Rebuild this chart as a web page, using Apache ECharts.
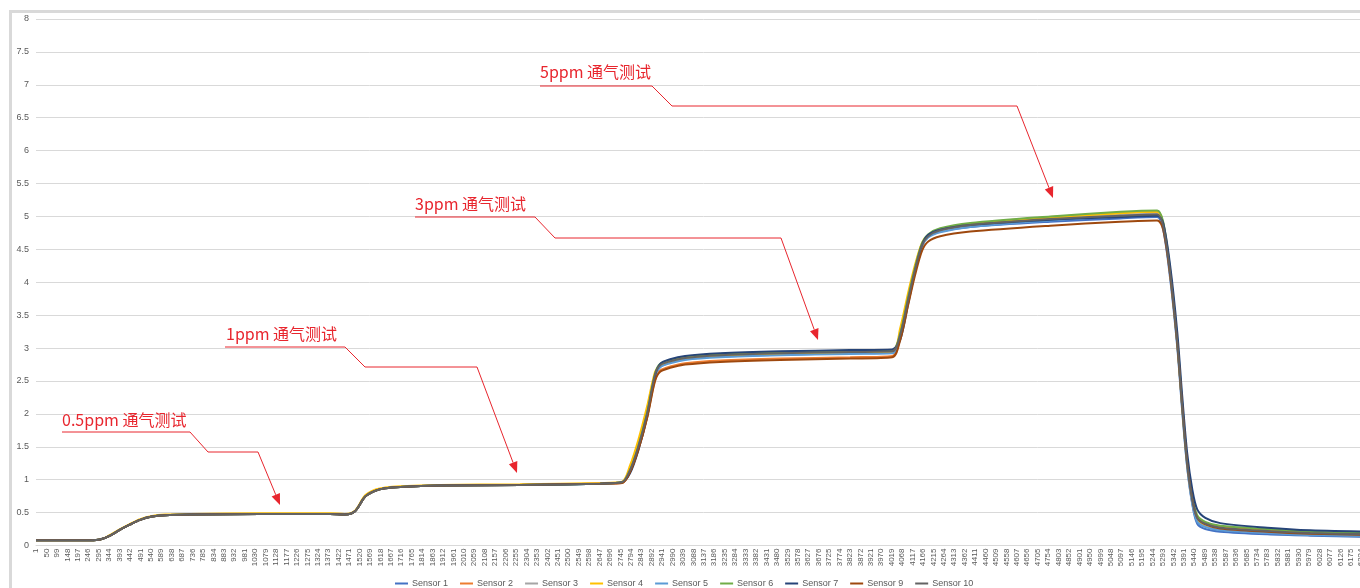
<!DOCTYPE html>
<html>
<head>
<meta charset="utf-8">
<script src="https://cdn.jsdelivr.net/npm/echarts@6/dist/echarts.min.js"></script>
<style>
html,body{margin:0;padding:0;background:#fff;overflow:hidden;width:1360px;height:588px;}
#chart{width:1400px;height:588px;}
</style>
</head>
<body>
<div id="chart"></div>
<script>
// sample numbers (x positions, category sample index)
const samples = [1,255,302,349,396,443,490,546,607,724,1053,1382,1452,1499,1546,1593,1640,1711,1899,2274,2650,2753,
  2791,2829,2871,2908,2932,2979,3049,3214,3495,3824,4022,
  4059,4097,4130,4162,4191,4247,4388,4764,5093,5266,
  5294,5327,5360,5384,5407,5431,5454,5492,5562,5783,5985,6267];

const seriesNames = ['Sensor 1','Sensor 2','Sensor 3','Sensor 4','Sensor 5','Sensor 6','Sensor 7','Sensor 9','Sensor 10'];
const seriesColors = ['#4472C4','#ED7D31','#A5A5A5','#FFC000','#5B9BD5','#70AD47','#264478','#9E480E','#636363'];

const sensor1 = [0.08,0.08,0.09,0.15,0.24,0.32,0.39,0.44,0.46,0.47,0.48,0.48,0.47,0.52,0.74,0.83,0.87,0.89,0.91,0.92,0.94,0.96,
  1.13,1.47,1.98,2.56,2.71,2.78,2.83,2.87,2.90,2.92,2.93,
  3.18,3.72,4.18,4.55,4.70,4.77,4.84,4.92,4.97,4.99,
  4.80,4.05,3.02,2.02,1.18,0.62,0.33,0.25,0.21,0.17,0.15,0.13];
const sensor2 = [0.08,0.08,0.09,0.15,0.24,0.32,0.39,0.44,0.46,0.47,0.48,0.48,0.47,0.52,0.74,0.83,0.87,0.89,0.91,0.92,0.94,0.95,
  1.12,1.45,1.95,2.52,2.66,2.72,2.77,2.81,2.84,2.86,2.88,
  3.15,3.70,4.17,4.55,4.70,4.80,4.89,4.99,5.05,5.07,
  4.90,4.15,3.10,2.10,1.25,0.70,0.43,0.34,0.28,0.23,0.20,0.18];
const sensor3 = [0.08,0.08,0.09,0.15,0.24,0.32,0.39,0.44,0.46,0.47,0.48,0.48,0.47,0.52,0.74,0.83,0.87,0.89,0.91,0.92,0.94,0.96,
  1.15,1.50,2.02,2.60,2.74,2.80,2.85,2.89,2.92,2.94,2.95,
  3.22,3.77,4.22,4.57,4.70,4.78,4.86,4.96,5.02,5.04,
  4.86,4.12,3.08,2.08,1.22,0.66,0.38,0.29,0.24,0.20,0.17,0.15];
const sensor4 = [0.08,0.08,0.09,0.16,0.25,0.33,0.40,0.45,0.47,0.48,0.49,0.49,0.48,0.53,0.76,0.85,0.88,0.90,0.92,0.93,0.95,0.97,
  1.22,1.60,2.12,2.64,2.74,2.80,2.85,2.89,2.91,2.93,2.94,
  3.30,3.85,4.28,4.60,4.72,4.80,4.88,4.98,5.05,5.07,
  4.88,4.12,3.08,2.08,1.23,0.68,0.41,0.32,0.27,0.22,0.19,0.17];
const sensor5 = [0.08,0.08,0.09,0.15,0.24,0.32,0.39,0.44,0.46,0.47,0.48,0.48,0.47,0.52,0.74,0.83,0.87,0.89,0.91,0.92,0.94,0.96,
  1.14,1.48,1.99,2.57,2.71,2.77,2.82,2.86,2.89,2.91,2.92,
  3.20,3.74,4.19,4.55,4.68,4.76,4.84,4.94,5.00,5.02,
  4.84,4.10,3.06,2.06,1.20,0.64,0.36,0.28,0.23,0.19,0.16,0.14];
const sensor6 = [0.08,0.08,0.09,0.15,0.24,0.32,0.39,0.44,0.46,0.47,0.48,0.48,0.47,0.52,0.74,0.83,0.87,0.89,0.91,0.92,0.94,0.96,
  1.15,1.50,2.02,2.61,2.76,2.82,2.87,2.91,2.94,2.96,2.97,
  3.22,3.78,4.24,4.60,4.73,4.82,4.90,5.00,5.07,5.09,
  4.92,4.18,3.14,2.14,1.28,0.74,0.46,0.36,0.30,0.25,0.21,0.19];
const sensor7 = [0.08,0.08,0.09,0.15,0.24,0.32,0.39,0.44,0.46,0.47,0.48,0.48,0.47,0.52,0.74,0.83,0.87,0.89,0.91,0.92,0.94,0.96,
  1.10,1.44,1.96,2.58,2.76,2.83,2.88,2.92,2.95,2.97,2.98,
  3.12,3.68,4.18,4.57,4.72,4.80,4.87,4.95,4.99,5.01,
  4.90,4.25,3.25,2.25,1.40,0.85,0.55,0.42,0.34,0.27,0.23,0.21];
const sensor9 = [0.08,0.08,0.09,0.15,0.24,0.32,0.39,0.44,0.46,0.47,0.48,0.48,0.47,0.52,0.74,0.83,0.87,0.89,0.91,0.92,0.94,0.95,
  1.12,1.45,1.94,2.50,2.64,2.70,2.75,2.79,2.82,2.84,2.86,
  3.12,3.66,4.12,4.48,4.62,4.70,4.77,4.86,4.92,4.94,
  4.80,4.10,3.08,2.10,1.25,0.70,0.42,0.32,0.26,0.21,0.18,0.16];
const sensor10 = [0.08,0.08,0.09,0.15,0.24,0.32,0.39,0.44,0.46,0.47,0.48,0.48,0.47,0.52,0.74,0.83,0.87,0.89,0.91,0.92,0.94,0.96,
  1.15,1.50,2.01,2.60,2.74,2.80,2.85,2.89,2.92,2.94,2.95,
  3.20,3.75,4.21,4.57,4.70,4.79,4.87,4.96,5.01,5.03,
  4.86,4.14,3.10,2.10,1.25,0.70,0.42,0.33,0.27,0.22,0.19,0.17];

const seriesValues = [sensor1,sensor2,sensor3,sensor4,sensor5,sensor6,sensor7,sensor9,sensor10];

// annotations: text and leader line corner points (page pixels)
const annotations = [
  {text:'0.5ppm 通气测试', tx:62,  ty:420, pts:[[62,432],[190,432],[208,452],[258,452],[280,505]]},
  {text:'1ppm 通气测试',   tx:226, ty:334, pts:[[225,347],[345,347],[365,367],[477,367],[517,473]]},
  {text:'3ppm 通气测试',   tx:415, ty:204, pts:[[415,217],[535,217],[555,238],[781,238],[818,340]]},
  {text:'5ppm 通气测试',   tx:540, ty:72,  pts:[[540,86],[652,86],[672,106],[1017,106],[1053,198]]}
];

const chart = echarts.init(document.getElementById('chart'), null, {renderer:'canvas'});

const red = '#E8262E';
const graphics = [
  {type:'rect', shape:{x:10.5, y:11.5, width:1500, height:700}, style:{fill:null, stroke:'#d9d9d9', lineWidth:3}, z:0, silent:true}
];
annotations.forEach(a => {
  const pts = a.pts.slice();
  const tip = pts[pts.length-1];
  const prev = pts[pts.length-2];
  const dx = tip[0]-prev[0], dy = tip[1]-prev[1];
  const len = Math.sqrt(dx*dx+dy*dy);
  const ux = dx/len, uy = dy/len;
  const L = 11, W = 4.5;
  const bx = tip[0]-ux*L, by = tip[1]-uy*L;
  const linePts = pts.slice(0, -1).concat([[bx, by]]);
  graphics.push({type:'polyline', shape:{points:linePts}, style:{stroke:red, lineWidth:1, fill:null}, z:50, silent:true});
  graphics.push({type:'polygon', shape:{points:[tip,[bx - uy*W, by + ux*W],[bx + uy*W, by - ux*W]]}, style:{fill:red}, z:50, silent:true});
  graphics.push({type:'text', style:{x:a.tx, y:a.ty, text:a.text, fill:red, fontSize:16, fontFamily:'"Noto Sans CJK SC", sans-serif', verticalAlign:'middle', align:'left'}, z:50, silent:true});
});

const option = {
  animation:false,
  backgroundColor:'#ffffff',
  grid:{left:36, right:29, top:19, bottom:42.5},
  legend:{
    data:seriesNames, left:390, top:574, icon:'rect', itemWidth:13, itemHeight:2, itemGap:12,
    textStyle:{color:'#595959', fontSize:9, fontFamily:'"Liberation Sans", sans-serif', padding:[0,0,0,-1]}
  },
  xAxis:{
    type:'value', min:1, max:6270, interval:49,
    axisLine:{show:true, lineStyle:{color:'#d9d9d9', width:1}},
    axisTick:{show:false},
    splitLine:{show:false},
    axisLabel:{rotate:90, fontSize:8, color:'#595959', margin:3, showMaxLabel:false, fontFamily:'"Liberation Sans", sans-serif',
      formatter: v => String(v)}
  },
  yAxis:{
    type:'value', min:0, max:8, interval:0.5,
    axisLine:{show:false}, axisTick:{show:false},
    splitLine:{lineStyle:{color:'#d9d9d9', width:1}},
    axisLabel:{fontSize:9, color:'#595959', margin:7, fontFamily:'"Liberation Sans", sans-serif'}
  },
  graphic:graphics,
  series: seriesNames.map((name,k) => ({
    name:name, type:'line', showSymbol:false, symbol:'none', smooth:0.3,
    lineStyle:{width:2, color:seriesColors[k]}, itemStyle:{color:seriesColors[k]},
    data: samples.map((s,i) => [s, seriesValues[k][i]])
  }))
};
chart.setOption(option);
</script>
</body>
</html>
